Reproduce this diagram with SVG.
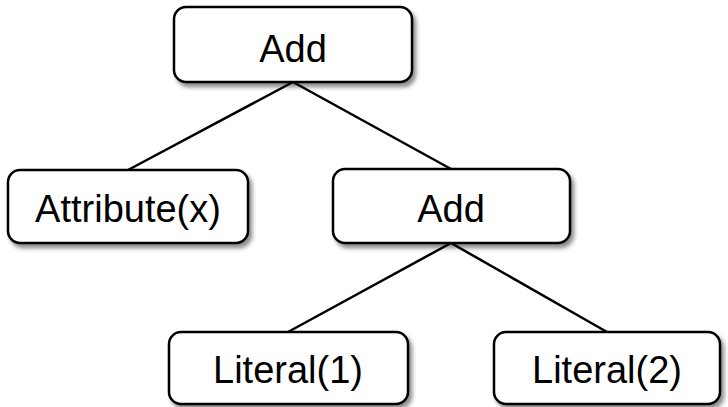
<svg xmlns="http://www.w3.org/2000/svg" width="728" height="407" viewBox="0 0 728 407">
<defs>
<filter id="sh" x="-10%" y="-10%" width="130%" height="140%">
<feDropShadow dx="3" dy="4" stdDeviation="2" flood-color="#000" flood-opacity="0.45"/>
</filter>
</defs>
<style>
.box{fill:#fff;stroke:#000;stroke-width:2.5;filter:url(#sh)}
.lbl{font-family:"Liberation Sans",Arial,sans-serif;font-size:38px;fill:#000;text-anchor:middle}
.edge{stroke:#000;stroke-width:2.5;fill:none}
</style>
<rect width="728" height="407" fill="#fff"/>
<g id="connectors">
<line class="edge" x1="293" y1="82" x2="128" y2="170"/>
<line class="edge" x1="293" y1="82" x2="451" y2="169"/>
<line class="edge" x1="451" y1="243" x2="288" y2="332"/>
<line class="edge" x1="451" y1="243" x2="607" y2="332"/>
</g>
<g id="add-root">
<rect class="box" x="174" y="7" width="238" height="75" rx="12"/>
<text class="lbl" x="293" y="62">Add</text>
</g>
<g id="attribute-x">
<rect class="box" x="8" y="170" width="240" height="73" rx="12"/>
<text class="lbl" x="128" y="222">Attribute(x)</text>
</g>
<g id="add-child">
<rect class="box" x="333" y="169" width="237" height="74" rx="12"/>
<text class="lbl" x="451" y="222">Add</text>
</g>
<g id="literal-1">
<rect class="box" x="169" y="332" width="239" height="72" rx="12"/>
<text class="lbl" x="288" y="383">Literal(1)</text>
</g>
<g id="literal-2">
<rect class="box" x="494" y="332" width="226" height="72" rx="12"/>
<text class="lbl" x="607" y="383">Literal(2)</text>
</g>
</svg>
